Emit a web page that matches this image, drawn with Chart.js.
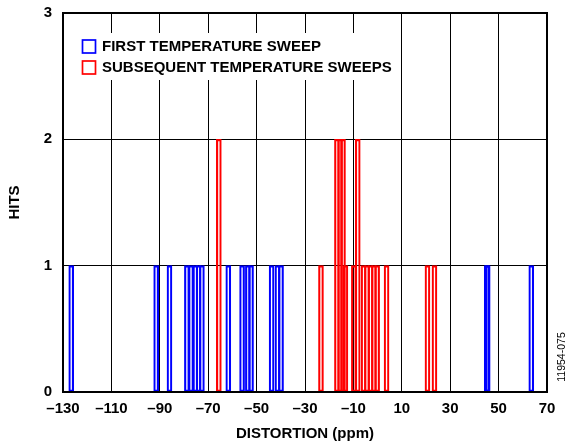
<!DOCTYPE html>
<html>
<head>
<meta charset="utf-8">
<script src="https://cdn.jsdelivr.net/npm/chart.js@4/dist/chart.umd.min.js"></script>
<style>
  html, body { margin: 0; padding: 0; background: #fff; }
  #wrap { width: 571px; height: 446px; }
</style>
</head>
<body>
<div id="wrap"><canvas id="histChart" width="571" height="446"></canvas></div>
<script>
// distortion values (ppm) and hit counts
const firstSweepPos = [-126.6, -91.5, -86.0, -78.8, -77.1, -75.3, -74.0, -72.6, -61.7, -56.0, -53.6, -52.3, -43.8, -41.4, -39.9, 45.1, 45.5, 63.5];
const firstSweepHits = [1, 1, 1, 1, 1, 1, 1, 1, 1, 1, 1, 1, 1, 1, 1, 1, 1, 1];
const laterSweepPos = [-65.6, -23.4, -16.8, -15.5, -14.3, -13.3, -9.8, -8.2, -5.8, -4.4, -2.9, -1.5, -0.2, 3.7, 20.6, 23.5];
const laterSweepHits = [2, 1, 2, 2, 2, 1, 1, 2, 1, 1, 1, 1, 1, 1, 1, 1];
const seriesNames = ['FIRST TEMPERATURE SWEEP', 'SUBSEQUENT TEMPERATURE SWEEPS'];
const xTicks = [-130, -110, -90, -70, -50, -30, -10, 10, 30, 50, 70];
const yTicks = [0, 1, 2, 3];

const FONT = '"Liberation Sans", Arial, Helvetica, sans-serif';

function toPoints(xs, ys) {
    return xs.map((x, i) => ({ x: x, y: ys[i] }));
}

const overlay = {
    id: 'overlay',
    afterDraw(chart) {
        const ctx = chart.ctx;
        const a = chart.chartArea;
        ctx.save();
        ctx.font = 'bold 15px ' + FONT;
        const textW = Math.max(...seriesNames.map(t => ctx.measureText(t).width));
        // legend block sits on top of the grid
        ctx.fillStyle = '#fff';
        ctx.fillRect(a.left + 2, 33, 101 + textW + 6 - a.left - 2, 47);
        const items = [
            { text: seriesNames[0], color: '#0000ff', y: 46.5 },
            { text: seriesNames[1], color: '#ff0000', y: 67.5 }
        ];
        ctx.textBaseline = 'middle';
        items.forEach(it => {
            ctx.strokeStyle = it.color;
            ctx.lineWidth = 1.7;
            ctx.strokeRect(82.5, it.y - 6.5, 13, 13);
            ctx.fillStyle = '#000';
            ctx.fillText(it.text, 102, it.y + 0.5);
        });
        // frame
        ctx.strokeStyle = '#000';
        ctx.lineWidth = 2;
        ctx.strokeRect(a.left, a.top, a.right - a.left, a.bottom - a.top);
        // figure code
        ctx.translate(562, 357);
        ctx.rotate(-Math.PI / 2);
        ctx.font = '10.5px ' + FONT;
        ctx.textAlign = 'center';
        ctx.textBaseline = 'middle';
        ctx.fillStyle = '#000';
        ctx.fillText('11954-075', 0, 0);
        ctx.restore();
    }
};

const ctx = document.getElementById('histChart').getContext('2d');
new Chart(ctx, {
    type: 'bar',
    data: {
        datasets: [{
            label: seriesNames[0],
            data: toPoints(firstSweepPos, firstSweepHits),
            borderColor: '#0000ff',
            backgroundColor: 'rgba(0,0,0,0)'
        }, {
            label: seriesNames[1],
            data: toPoints(laterSweepPos, laterSweepHits),
            borderColor: '#ff0000',
            backgroundColor: 'rgba(0,0,0,0)'
        }]
    },
    options: {
        responsive: false,
        animation: false,
        layout: { padding: { left: 0, top: 13, right: 24, bottom: 0 } },
        datasets: {
            bar: {
                grouped: false,
                barThickness: 5,
                borderWidth: 1.5,
                borderSkipped: false
            }
        },
        plugins: {
            legend: { display: false },
            tooltip: { enabled: false }
        },
        scales: {
            x: {
                type: 'linear',
                min: -130,
                max: 70,
                offset: false,
                afterBuildTicks(scale) {
                    scale.ticks = xTicks.map(v => ({ value: v }));
                },
                afterFit(scale) {
                    scale.height = 54;
                    scale.paddingLeft = 0;
                    scale.paddingRight = 0;
                },
                grid: { color: '#000', lineWidth: 1, drawTicks: false, offset: false },
                border: { display: false },
                ticks: {
                    padding: 8,
                    color: '#000',
                    font: { family: FONT, size: 15, weight: 'bold' },
                    callback: v => String(v).replace('-', '\u2013')
                },
                title: {
                    display: true,
                    text: 'DISTORTION (ppm)',
                    color: '#000',
                    font: { family: FONT, size: 15, weight: 'bold' },
                    padding: { top: 0, bottom: 3 }
                }
            },
            y: {
                min: 0,
                max: 3,
                afterBuildTicks(scale) {
                    scale.ticks = yTicks.map(v => ({ value: v }));
                },
                afterFit(scale) {
                    scale.width = 63;
                    scale.paddingTop = 0;
                    scale.paddingBottom = 0;
                },
                grid: { color: '#000', lineWidth: 1, drawTicks: false },
                border: { display: false },
                ticks: {
                    padding: 11,
                    color: '#000',
                    font: { family: FONT, size: 15, weight: 'bold' }
                },
                title: {
                    display: true,
                    text: 'HITS',
                    color: '#000',
                    font: { family: FONT, size: 15, weight: 'bold' },
                    padding: { top: 6, bottom: 0 }
                }
            }
        }
    },
    plugins: [overlay]
});
</script>
</body>
</html>
